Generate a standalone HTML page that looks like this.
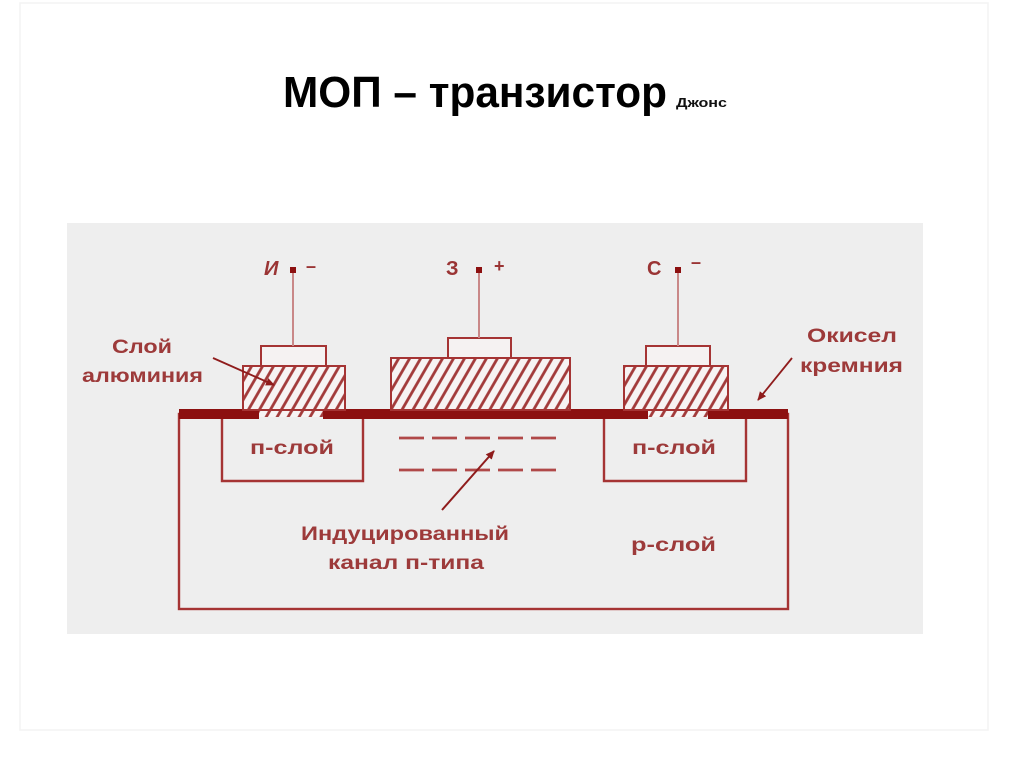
<!DOCTYPE html>
<html>
<head>
<meta charset="utf-8">
<style>
  html,body{margin:0;padding:0;background:#ffffff;}
  body{width:1024px;height:767px;overflow:hidden;}
  svg{display:block;}
</style>
</head>
<body>
<svg width="1024" height="767" viewBox="0 0 1024 767" xmlns="http://www.w3.org/2000/svg">
  <defs>
    <pattern id="hatch" patternUnits="userSpaceOnUse" width="9.5" height="20" patternTransform="rotate(30)">
      <rect x="0" y="0" width="9.5" height="20" fill="#f7f3f3"/>
      <line x1="2" y1="0" x2="2" y2="20" stroke="#a23a3a" stroke-width="2.8"/>
    </pattern>
    <marker id="ah" markerWidth="10" markerHeight="10" refX="8" refY="5" orient="auto" markerUnits="userSpaceOnUse">
      <path d="M0,1 L9,5 L0,9 Z" fill="#8f1c1c"/>
    </marker>
  </defs>

  <!-- faint slide border -->
  <rect x="20" y="3" width="968" height="727" fill="none" stroke="#f3f3f3" stroke-width="1.5"/>

  <!-- title -->
  <text x="283" y="107" font-family="Liberation Sans, sans-serif" font-weight="bold" font-size="44" fill="#000" textLength="384" lengthAdjust="spacingAndGlyphs">МОП – транзистор</text>
  <text x="676" y="107" font-family="Liberation Sans, sans-serif" font-weight="bold" font-size="13" fill="#111" textLength="51" lengthAdjust="spacingAndGlyphs">Джонс</text>

  <!-- gray panel -->
  <rect x="67" y="223" width="856" height="411" fill="#eeeeee"/>

  <!-- substrate -->
  <rect x="179" y="414" width="609" height="195" fill="none" stroke="#a53434" stroke-width="2.4"/>
  <!-- n-layers -->
  <path d="M222,418 L222,481 L363,481 L363,418" fill="none" stroke="#a53434" stroke-width="2.4"/>
  <path d="M604,418 L604,481 L746,481 L746,418" fill="none" stroke="#a53434" stroke-width="2.4"/>

  <!-- oxide bar segments -->
  <rect x="179" y="409" width="80" height="10" fill="#8c1010"/>
  <rect x="323" y="409" width="325" height="10" fill="#8c1010"/>
  <rect x="708" y="409" width="80" height="10" fill="#8c1010"/>

  <!-- source contact -->
  <rect x="259" y="408" width="64" height="9" fill="url(#hatch)"/>
  <rect x="243" y="366" width="102" height="44" fill="url(#hatch)" stroke="#a53434" stroke-width="2"/>
  <rect x="261" y="346" width="65" height="20" fill="#f5f2f2" stroke="#a53434" stroke-width="2"/>
  <line x1="293" y1="272" x2="293" y2="346" stroke="#c98888" stroke-width="2"/>
  <rect x="290" y="267" width="6" height="6" fill="#8c1010"/>

  <!-- gate -->
  <rect x="391" y="358" width="179" height="52" fill="url(#hatch)" stroke="#a53434" stroke-width="2"/>
  <rect x="448" y="338" width="63" height="20" fill="#f5f2f2" stroke="#a53434" stroke-width="2"/>
  <line x1="479" y1="272" x2="479" y2="338" stroke="#c98888" stroke-width="2"/>
  <rect x="476" y="267" width="6" height="6" fill="#8c1010"/>

  <!-- drain contact -->
  <rect x="648" y="408" width="60" height="9" fill="url(#hatch)"/>
  <rect x="624" y="366" width="104" height="44" fill="url(#hatch)" stroke="#a53434" stroke-width="2"/>
  <rect x="646" y="346" width="64" height="20" fill="#f5f2f2" stroke="#a53434" stroke-width="2"/>
  <line x1="678" y1="272" x2="678" y2="346" stroke="#c98888" stroke-width="2"/>
  <rect x="675" y="267" width="6" height="6" fill="#8c1010"/>

  <!-- terminal labels -->
  <g font-family="Liberation Sans, sans-serif" font-weight="bold" fill="#9a3434">
    <text x="264" y="275" font-size="20" font-style="italic">И</text>
    <text x="306" y="272" font-size="18">–</text>
    <text x="446" y="275" font-size="20">З</text>
    <text x="494" y="272" font-size="18">+</text>
    <text x="647" y="275" font-size="20">С</text>
    <text x="691" y="268" font-size="18">–</text>
  </g>

  <!-- channel dashes -->
  <line x1="399" y1="438" x2="560" y2="438" stroke="#b04848" stroke-width="2.8" stroke-dasharray="25 8"/>
  <line x1="399" y1="470" x2="560" y2="470" stroke="#b04848" stroke-width="2.8" stroke-dasharray="25 8"/>

  <!-- arrows -->
  <line x1="442" y1="510" x2="494" y2="451" stroke="#8f1c1c" stroke-width="2" marker-end="url(#ah)"/>
  <line x1="213" y1="358" x2="274" y2="385" stroke="#8f1c1c" stroke-width="1.8" marker-end="url(#ah)"/>
  <line x1="792" y1="358" x2="758" y2="400" stroke="#8f1c1c" stroke-width="1.8" marker-end="url(#ah)"/>

  <!-- labels -->
  <g font-family="Liberation Sans, sans-serif" font-weight="bold" fill="#9d3a3a" font-size="19">
    <text x="112" y="353" textLength="60" lengthAdjust="spacingAndGlyphs">Слой</text>
    <text x="82" y="382" textLength="121" lengthAdjust="spacingAndGlyphs">алюминия</text>
    <text x="807" y="342" textLength="90" lengthAdjust="spacingAndGlyphs">Окисел</text>
    <text x="800" y="372" textLength="103" lengthAdjust="spacingAndGlyphs">кремния</text>
    <text x="250" y="454" textLength="84" lengthAdjust="spacingAndGlyphs">п-слой</text>
    <text x="632" y="454" textLength="84" lengthAdjust="spacingAndGlyphs">п-слой</text>
    <text x="631" y="551" textLength="85" lengthAdjust="spacingAndGlyphs">р-слой</text>
    <text x="301" y="540" textLength="208" lengthAdjust="spacingAndGlyphs">Индуцированный</text>
    <text x="328" y="569" textLength="156" lengthAdjust="spacingAndGlyphs">канал п-типа</text>
  </g>
</svg>
</body>
</html>
